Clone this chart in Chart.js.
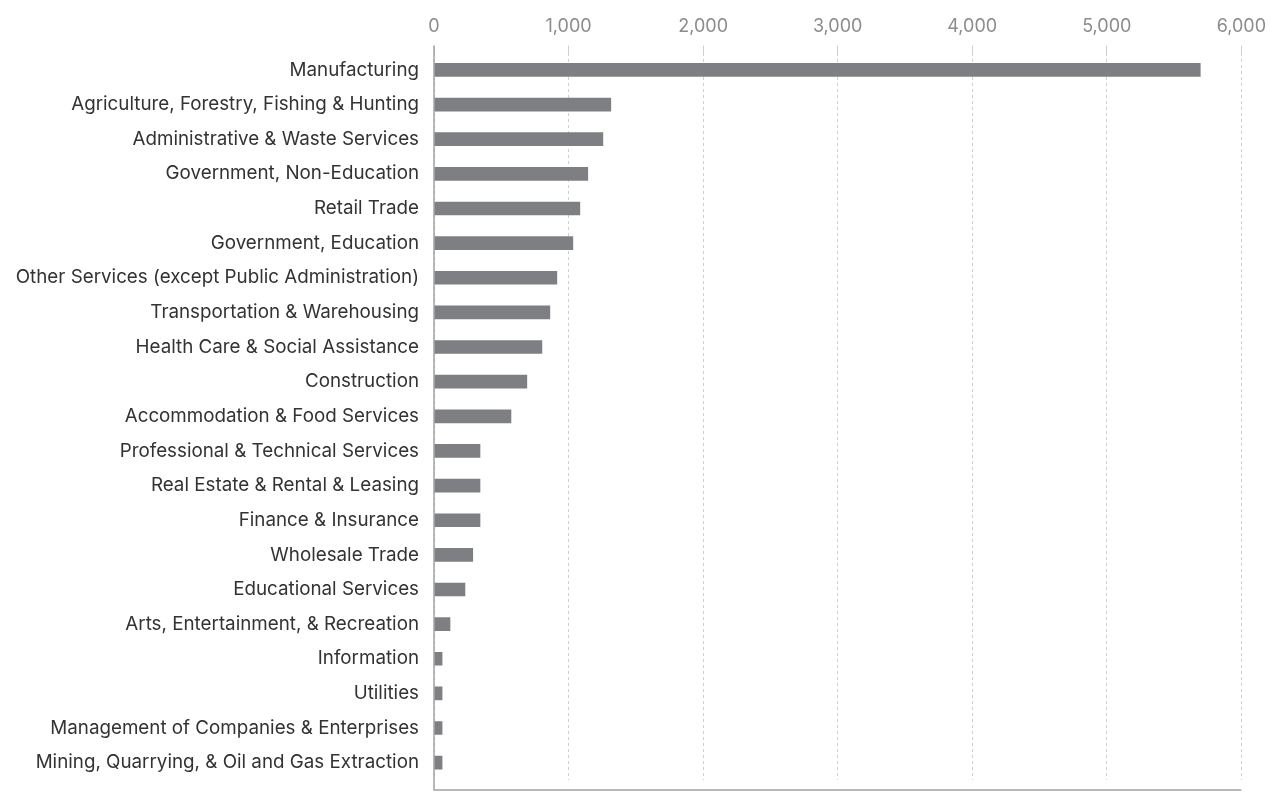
<!DOCTYPE html>
<html>
<head>
<meta charset="utf-8">
<script src="https://cdn.jsdelivr.net/npm/chart.js@4.4.1/dist/chart.umd.min.js"></script>
<style>
  html, body { margin: 0; padding: 0; background: #fff; }
  #wrap { width: 1274px; height: 794px; }
</style>
</head>
<body>
<div id="wrap"><canvas id="grafico"></canvas></div>
<script>
const industrias = [
    'Manufacturing',
    'Agriculture, Forestry, Fishing & Hunting',
    'Administrative & Waste Services',
    'Government, Non-Education',
    'Retail Trade',
    'Government, Education',
    'Other Services (except Public Administration)',
    'Transportation & Warehousing',
    'Health Care & Social Assistance',
    'Construction',
    'Accommodation & Food Services',
    'Professional & Technical Services',
    'Real Estate & Rental & Leasing',
    'Finance & Insurance',
    'Wholesale Trade',
    'Educational Services',
    'Arts, Entertainment, & Recreation',
    'Information',
    'Utilities',
    'Management of Companies & Enterprises',
    'Mining, Quarrying, & Oil and Gas Extraction'
];

const valores = [5695, 1314, 1255, 1143, 1084, 1032, 913, 861, 802, 690, 572, 342, 342, 342, 288, 230, 119, 60, 60, 60, 60];

const ticksX = [0, 1000, 2000, 3000, 4000, 5000, 6000];

// lineas del eje izquierdo e inferior
const bordes = {
    id: 'bordes',
    afterDraw(chart) {
        const { ctx, chartArea } = chart;
        const x0 = chart.scales.x.getPixelForValue(0);
        ctx.save();
        ctx.strokeStyle = '#a3a3a3';
        ctx.lineWidth = 1.5;
        ctx.beginPath();
        ctx.moveTo(x0, chartArea.top - 7);
        ctx.lineTo(x0, chartArea.bottom + 10);
        ctx.lineTo(chartArea.right, chartArea.bottom + 10);
        ctx.stroke();
        ctx.restore();
    }
};

new Chart(document.getElementById('grafico'), {
    type: 'bar',
    data: {
        labels: industrias,
        datasets: [{
            data: valores,
            backgroundColor: '#7d7f83',
            barThickness: 13
        }]
    },
    plugins: [bordes],
    options: {
        indexAxis: 'y',
        responsive: true,
        maintainAspectRatio: false,
        animation: false,
        layout: { padding: { top: 8, right: 32, bottom: 14, left: 0 } },
        plugins: {
            legend: { display: false },
            tooltip: { enabled: false }
        },
        scales: {
            x: {
                position: 'top',
                min: 0,
                max: 6000,
                afterBuildTicks(scale) {
                    scale.ticks = ticksX.map(v => ({ value: v }));
                },
                border: { display: false, dash: [3, 3] },
                grid: {
                    color: '#cfcfcf',
                    tickLength: 7,
                    drawTicks: true
                },
                ticks: {
                    color: '#8c8c8c',
                    padding: 8,
                    font: { family: 'Inter', size: 18 },
                    callback: v => v.toLocaleString('en-US')
                }
            },
            y: {
                afterFit(scale) {
                    scale.width = 434;
                    scale.paddingTop = 0;
                    scale.paddingBottom = 0;
                },
                border: { display: false },
                grid: { display: false },
                ticks: {
                    color: '#333',
                    padding: 7,
                    autoSkip: false,
                    font: { family: 'Inter', size: 18.8 }
                }
            }
        }
    }
});
</script>
</body>
</html>
